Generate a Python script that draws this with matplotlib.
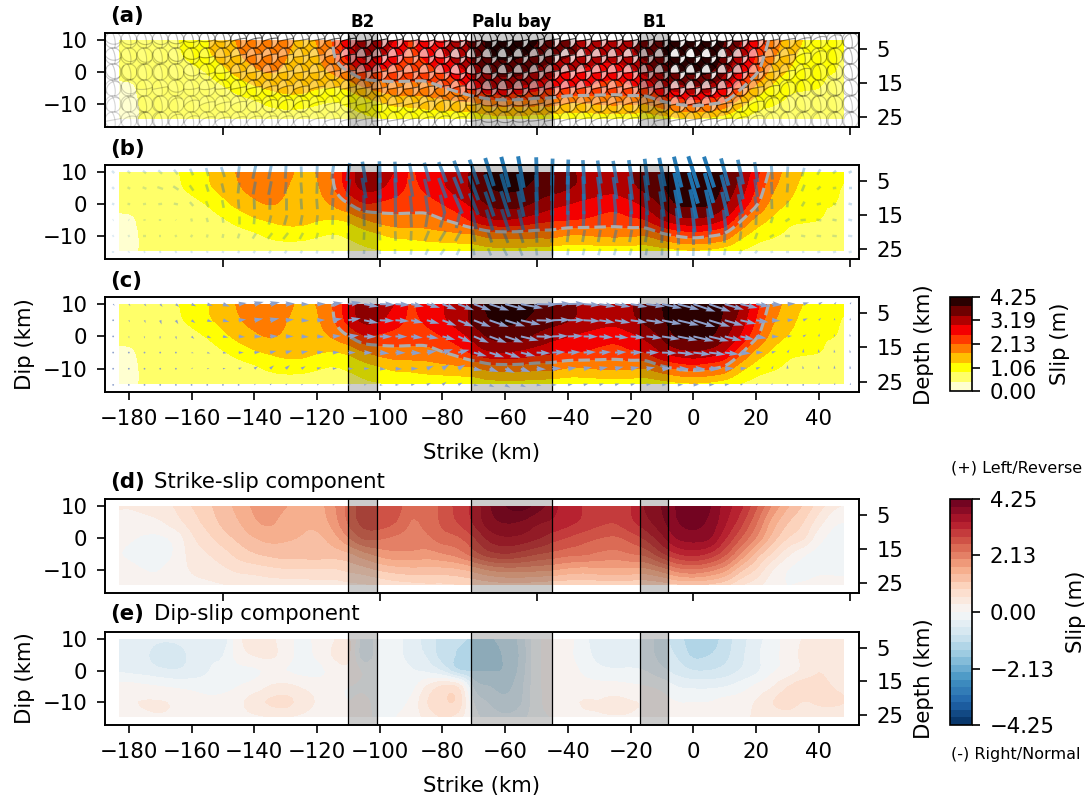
import numpy as np
import matplotlib
matplotlib.use('Agg')
import matplotlib.pyplot as plt
from matplotlib.collections import LineCollection
from matplotlib.colors import BoundaryNorm, ListedColormap
from matplotlib.patches import Rectangle

# ---------- data ----------
strike_km = [-185,-180,-175,-170,-165,-160,-155,-150,-145,-140,-135,-130,-125,-120,-115,-110,-105,-100,-95,-90,-85,-80,-75,-70,
             -65,-60,-55,-50,-45,-40,-35,-30,-25,-20,-15,-10,-5,0,5,10,15,20,25,30,35,40,45,50]
dip_km = [10, 5, 0, -5, -10, -15]

tot_10 = [.5,.55,.6,.65,.8,1.05,1.25,1.5,1.75,2.0,2.05,1.85,1.6,1.72,2.13,2.8,3.1,3.1,2.95,2.5,2.85,2.95,3.2,3.5,
          3.95,4.15,4.15,3.85,3.65,3.45,3.35,3.2,3.1,3.35,3.6,3.82,4.1,4.2,4.15,3.8,3.4,2.7,2.0,1.55,1.27,1.05,.9,.9]
tot_5 = [.5,.5,.5,.55,.75,.95,1.2,1.4,1.65,1.85,1.95,1.72,1.55,1.65,2.05,2.7,3.05,3.0,2.75,2.45,2.65,2.9,3.15,3.5,
         3.8,3.9,3.85,3.65,3.55,3.42,3.3,3.15,3.1,3.3,3.5,3.75,4.1,4.2,4.1,3.7,3.2,2.5,1.8,1.45,1.15,.95,.88,.8]
tot_0 = [.5,.5,.45,.5,.6,.7,.88,1.15,1.4,1.6,1.72,1.62,1.55,1.55,1.75,2.1,2.5,2.45,2.35,2.3,2.35,2.55,2.8,3.1,
         3.45,3.55,3.5,3.3,3.1,2.98,2.85,2.75,2.7,2.85,3.1,3.45,3.85,3.9,3.85,3.45,2.9,2.2,1.55,1.25,1.05,.88,.85,.75]
tot_m5 = [.35,.38,.48,.48,.5,.52,.62,.8,1.0,1.2,1.32,1.4,1.4,1.3,1.25,1.35,1.65,1.85,1.95,1.95,1.95,2.1,2.3,2.65,
          2.9,2.95,2.85,2.7,2.6,2.55,2.5,2.4,2.35,2.45,2.55,2.95,3.2,3.3,3.2,2.9,2.2,1.55,1.2,.95,.9,.85,.75,.65]
tot_m10 = [.3,.35,.46,.47,.48,.5,.52,.58,.65,.75,.92,1.0,.98,.88,.8,.9,1.05,1.2,1.35,1.38,1.45,1.5,1.55,1.6,
           1.8,1.85,1.85,1.8,1.8,1.65,1.65,1.72,1.75,1.72,1.7,1.95,2.15,2.25,2.15,1.95,1.4,1.05,.9,.75,.6,.6,.6,.55]
tot_m15 = [.3,.35,.46,.47,.47,.47,.48,.48,.48,.5,.5,.52,.52,.52,.55,.65,.75,.8,.85,.88,.9,.92,.95,1.0,
           1.05,1.05,1.05,1.0,.95,.95,.95,.95,.95,.95,.95,1.0,1.1,1.15,1.1,.95,.8,.65,.5,.47,.47,.47,.47,.47]

ss_10 = [.3,.3,.35,.45,.6,.85,1.05,1.3,1.5,1.75,1.85,1.72,1.45,1.55,1.9,2.35,2.7,2.8,2.7,2.35,2.45,2.6,2.95,3.2,
         3.65,3.95,4.1,3.85,3.5,3.25,3.1,3.0,2.9,3.1,3.45,3.7,4.0,4.1,4.0,3.55,3.2,2.6,1.95,1.45,1.1,.7,.35,.2]
ss_5 = [.25,.2,.2,.25,.45,.7,.95,1.2,1.4,1.65,1.75,1.55,1.45,1.5,1.8,2.3,2.65,2.7,2.55,2.25,2.35,2.6,2.85,3.15,
        3.55,3.7,3.65,3.45,3.35,3.2,3.05,2.9,2.85,3.05,3.3,3.6,3.95,4.05,3.9,3.45,2.95,2.3,1.6,1.15,.85,.4,.05,0]
ss_0 = [.1,.05,-.05,-.05,.1,.5,.75,1.0,1.2,1.4,1.5,1.45,1.4,1.35,1.55,1.95,2.3,2.3,2.2,2.15,2.2,2.4,2.5,2.8,
        3.2,3.35,3.3,3.15,2.95,2.8,2.65,2.55,2.5,2.65,2.9,3.3,3.7,3.8,3.7,3.15,2.55,1.95,1.3,.85,.6,.1,-.1,-.1]
ss_m5 = [.05,-.05,-.2,-.15,.05,.4,.55,.72,.95,1.1,1.2,1.25,1.25,1.25,1.25,1.35,1.6,1.8,1.9,1.9,1.85,1.95,2.1,2.4,
         2.7,2.8,2.7,2.55,2.45,2.35,2.3,2.2,2.15,2.25,2.35,2.75,3.1,3.2,3.05,2.6,1.95,1.3,.8,.35,.05,-.1,-.1,-.1]
ss_m10 = [.1,.1,0,0,.15,.3,.4,.5,.62,.68,.75,.8,.8,.82,.8,.9,1.0,1.15,1.25,1.3,1.3,1.3,1.35,1.5,
          1.7,1.8,1.8,1.75,1.7,1.6,1.55,1.6,1.6,1.6,1.6,1.8,2.1,2.2,2.05,1.75,1.2,.8,.3,0,-.1,-.05,-.05,-.05]
ss_m15 = [.15,.15,.05,.05,.15,.2,.2,.25,.3,.3,.35,.35,.35,.4,.4,.45,.5,.55,.65,.7,.75,.75,.8,.85,
          .9,.95,.95,.9,.85,.85,.85,.85,.85,.85,.85,.9,1.0,1.05,1.0,.85,.55,.35,.1,0,.05,.1,.1,.1]

ds_10 = [-.3,-.35,-.4,-.5,-.5,-.4,-.3,-.45,.2,.4,.35,.1,-.05,.05,.25,.35,-.45,-.1,-.15,-.45,-.65,-1.0,-1.1,-1.15,
         -1.15,-1.05,-.75,-.1,.1,.1,-.2,-.45,-.5,-.5,-.45,-.75,-1.0,-1.35,-1.35,-1.0,-.7,-.4,-.15,.1,.3,.4,.4,.4]
ds_5 = [-.25,-.35,-.5,-.75,-.7,-.5,-.3,-.3,.15,.3,.35,.15,-.1,.05,.3,.35,-.5,-.1,-.15,-.45,-.6,-1.0,-1.15,-1.2,
        -1.2,-1.1,-.8,-.1,.1,.05,-.15,-.4,-.45,-.4,-.45,-.7,-.9,-1.2,-1.15,-.95,-.65,-.35,-.1,.1,.35,.45,.45,.45]
ds_0 = [-.3,-.35,-.4,-.5,-.55,-.45,-.3,-.2,-.1,-.05,.05,0,-.1,-.1,.1,.2,-.05,-.05,-.05,-.25,-.35,-.6,-1.1,-1.15,
        -1.15,-1.1,-.75,-.1,.1,.1,-.05,-.2,-.25,-.25,-.3,-.5,-.7,-.85,-.85,-.75,-.55,-.35,-.05,.1,.35,.55,.45,.45]
ds_m5 = [.1,.1,.05,0,-.05,-.1,-.15,-.1,0,.1,.3,.35,.25,.15,.05,0,-.05,-.15,-.05,-.1,.3,.6,.5,-.65,
         -.85,-.95,-.65,-.1,.1,.1,.1,.1,.1,.05,0,-.1,-.3,-.35,-.35,-.3,-.15,.05,.25,.55,.7,.65,.55,.5]
ds_m10 = [.2,.25,.3,.3,.25,.2,.1,.1,.2,.45,.6,.65,.45,.25,.1,0,.05,-.1,-.05,.05,.55,.8,.75,-.3,
          -.6,-.75,-.6,-.1,.1,.2,.3,.3,.35,.3,.25,.1,0,0,0,.1,.15,.3,.55,.7,.55,.6,.6,.55]
ds_m15 = [0,.1,.2,.25,.2,.15,.1,.1,.15,.2,.25,.25,.2,.1,.05,.05,.05,-.05,0,.1,.35,.55,.4,-.15,
          -.4,-.5,-.4,-.1,0,.1,.2,.25,.25,.25,.15,.05,.05,.05,.1,.15,.25,.3,.35,.35,.3,.4,.4,.4]

barrier_spans = [(-110, -101), (-71, -45), (-17, -8)]
barrier_labels = ['B2', 'Palu bay', 'B1']
x_ticks_labelled = [-180, -160, -140, -120, -100, -80, -60, -40, -20, 0, 20, 40]
x_ticks_plain = [-150, -100, -50, 0, 50]
dip_ticks = [10, 0, -10]
depth_ticks = [5, 15, 25]
slip_ticks = [0.00, 1.06, 2.13, 3.19, 4.25]
comp_ticks = [-4.25, -2.13, 0.00, 2.13, 4.25]

# ---------- fields ----------
xs = np.array(strike_km, float)
ys = np.array(dip_km, float)
X, Y = np.meshgrid(xs, ys)
TOT = np.array([tot_10, tot_5, tot_0, tot_m5, tot_m10, tot_m15], float)
SS = np.array([ss_10, ss_5, ss_0, ss_m5, ss_m10, ss_m15], float)
DS = np.array([ds_10, ds_5, ds_0, ds_m5, ds_m10, ds_m15], float)

def smooth_axis(a, k, axis):
    # Catmull-Rom resampling, used only to round the contour outlines
    a = np.moveaxis(a, axis, 0)
    n = a.shape[0]
    t = np.linspace(0, n - 1, (n - 1) * k + 1)
    i = np.minimum(t.astype(int), n - 2)
    u = (t - i)[:, None]
    p0, p1 = a[np.maximum(i - 1, 0)], a[i]
    p2, p3 = a[i + 1], a[np.minimum(i + 2, n - 1)]
    out = 0.5 * (2 * p1 + (p2 - p0) * u + (2 * p0 - 5 * p1 + 4 * p2 - p3) * u**2 + (3 * p1 - p0 - 3 * p2 + p3) * u**3)
    return np.moveaxis(out, 0, axis)

def fine(a, k=4):
    return smooth_axis(smooth_axis(a, k, 0), k, 1)

FX, FY = fine(X), fine(Y)
FTOT = np.clip(fine(TOT), 0.001, 4.249)
FSS = np.clip(fine(SS), -4.249, 4.249)
FDS = np.clip(fine(DS), -4.249, 4.249)

W, H = 1087, 800
DPI = 150
plt.rcParams.update({'font.size': 10.2, 'axes.linewidth': 0.8, 'font.family': 'DejaVu Sans',
                     'xtick.major.size': 4, 'ytick.major.size': 4,
                     'xtick.major.pad': 4, 'ytick.major.pad': 4.5})
fig = plt.figure(figsize=(W / DPI, H / DPI), dpi=DPI)

def axpx(l, t, r, b):
    return fig.add_axes([l / W, 1 - b / H, (r - l) / W, (b - t) / H])

XLIM = (-187.6, 52.8)
YLIM = (-17.2, 12.2)
DATA_BOX = (-183, -14.7, 231, 24.7)
lev_total = np.linspace(0, 4.25, 11)
lev_comp = np.linspace(-4.25, 4.25, 31)

def clipped(ax, cs):
    cs.set_clip_path(Rectangle(DATA_BOX[:2], DATA_BOX[2], DATA_BOX[3], transform=ax.transData))

def base(ax, labelled, depth_label=False):
    ax.set_xlim(*XLIM)
    ax.set_ylim(*YLIM)
    ax.set_yticks(dip_ticks)
    if labelled:
        ax.set_xticks(x_ticks_labelled)
        ax.set_xlabel('Strike (km)', labelpad=7)
        ax.set_ylabel('Dip (km)', labelpad=3.5)
    else:
        ax.set_xticks(x_ticks_plain)
        ax.set_xticklabels([])
    tw = ax.twinx()
    tw.set_ylim(28.0, 0.3)
    tw.set_yticks(depth_ticks)
    if depth_label:
        tw.set_ylabel('Depth (km)', labelpad=5)
    for a, b in barrier_spans:
        ax.axvspan(a, b, color='k', alpha=0.2, lw=0, zorder=6)
        for v in (a, b):
            ax.axvline(v, color='k', lw=0.6, zorder=7)

def total_panel(ax):
    cf = ax.contourf(FX, FY, FTOT, levels=lev_total, cmap='hot_r', zorder=1)
    clipped(ax, cf)
    c2 = ax.contour(FX, FY, FTOT, levels=[2.125], colors='0.68', linewidths=1.5, linestyles='--', zorder=5)
    clipped(ax, c2)
    return cf

# ---------- (a) beach balls ----------
def mech_vectors(strike, dip, rake):
    s, d, r = np.radians([strike, dip, rake])
    n = np.array([np.sin(d) * np.cos(s), -np.sin(d) * np.sin(s), -np.cos(d)])
    sl = np.array([np.cos(r) * np.sin(s) - np.cos(d) * np.sin(r) * np.cos(s),
                   np.cos(r) * np.cos(s) + np.cos(d) * np.sin(r) * np.sin(s),
                   -np.sin(d) * np.sin(r)])
    return n, sl

def lower_arc(v, rad, x0, y0, npts=30):
    h = np.array([-v[1], v[0], 0.0])
    h = h / max(np.linalg.norm(h), 1e-9)
    u = np.cross(v, h)
    if u[2] < 0:
        u = -u
    t = np.linspace(0, np.pi, npts)
    p = np.outer(np.cos(t), h) + np.outer(np.sin(t), u)
    k = np.sqrt(np.clip(1 - p[:, 2], 0, None)) / np.maximum(np.hypot(p[:, 0], p[:, 1]), 1e-6)
    return np.column_stack([x0 + rad * p[:, 0] * k, y0 + rad * p[:, 1] * k])

RAD = 2.55
gx = np.linspace(-1, 1, 33)
GX, GY = np.meshgrid(gx, gx)
RHO2 = GX**2 + GY**2
fac = np.sqrt(np.clip(2 - RHO2, 0, None))
RVEC = np.stack([GX * fac, GY * fac, 1 - RHO2], axis=-1)

ax_a = axpx(105, 33, 859, 127)
total_panel(ax_a)
segs, cols = [], []
tt = np.linspace(0, 2 * np.pi, 50)
for j in range(Y.shape[0]):
    for i in range(X.shape[1]):
        x0, y0, m = X[j, i], Y[j, i], TOT[j, i]
        rake = np.degrees(np.arctan2(DS[j, i], SS[j, i]))
        n, sl = mech_vectors(-10.0, 72.0, rake)
        pol = (RVEC @ n) * (RVEC @ sl)
        img = np.ones(GX.shape + (4,))
        img[..., 3] = np.where((pol < 0) & (RHO2 <= 1), min(1.0, m / 4.25) * 0.97, 0.0)
        ax_a.imshow(img, extent=[x0 - RAD, x0 + RAD, y0 - RAD, y0 + RAD], origin='lower',
                    aspect='auto', interpolation='bilinear', zorder=3)
        la = float(np.clip(0.08 + 0.25 * m, 0, 0.8))
        for seg in ([lower_arc(n, RAD, x0, y0), lower_arc(sl, RAD, x0, y0),
                     np.column_stack([x0 + RAD * np.cos(tt), y0 + RAD * np.sin(tt)])]):
            segs.append(seg)
            cols.append((0, 0, 0, la))
ax_a.add_collection(LineCollection(segs, colors=cols, linewidths=0.55, zorder=4))
base(ax_a, False)

# ---------- (b) slip-direction bars ----------
ax_b = axpx(105, 165, 859, 259)
total_panel(ax_b)
BLEN = 1.2
idx = [(j, i) for j in range(Y.shape[0]) for i in range(X.shape[1])]
bar_segs = [[(X[j, i] - BLEN * DS[j, i], Y[j, i] - BLEN * SS[j, i]),
             (X[j, i] + BLEN * DS[j, i], Y[j, i] + BLEN * SS[j, i])] for j, i in idx]
bar_rgba = [(0.12, 0.47, 0.71, float(np.clip(0.08 + 0.9 * TOT[j, i] / 4.25, 0, 1))) for j, i in idx]
bar_lw = [1.0 + 0.22 * TOT[j, i] for j, i in idx]
ax_b.add_collection(LineCollection(bar_segs, colors=bar_rgba, linewidths=bar_lw, zorder=4,
                                   clip_on=False, capstyle='butt'))
base(ax_b, False)

# ---------- (c) slip vectors ----------
ax_c = axpx(105, 297, 859, 392)
total_panel(ax_c)
q = ax_c.quiver(X, Y, SS, DS, color='#8DA0CB', angles='xy', scale_units='xy', scale=0.58,
                width=0.0026, pivot='tail', zorder=8)
q.set_clip_on(False)
base(ax_c, True, True)

# ---------- (d), (e) components ----------
ax_d = axpx(105, 499, 859, 593)
cf_ss = ax_d.contourf(FX, FY, FSS, levels=lev_comp, cmap='RdBu_r', zorder=1)
clipped(ax_d, cf_ss)
base(ax_d, False)

ax_e = axpx(105, 632, 859, 725)
cf_ds = ax_e.contourf(FX, FY, FDS, levels=lev_comp, cmap='RdBu_r', zorder=1)
clipped(ax_e, cf_ds)
base(ax_e, True, True)

# ---------- colour bars ----------
cax1 = axpx(950, 297, 972, 391)
mid = (lev_total[:-1] + lev_total[1:]) / 2 / 4.25
cb1 = fig.colorbar(plt.cm.ScalarMappable(norm=BoundaryNorm(lev_total, len(mid)),
                                         cmap=ListedColormap(plt.get_cmap('hot_r')(mid))),
                   cax=cax1, spacing='proportional')
cb1.set_ticks(slip_ticks)
cb1.set_ticklabels(['%.2f' % v for v in slip_ticks])
cb1.set_label('Slip (m)', labelpad=6)
cb1.ax.minorticks_off()

cax2 = axpx(950, 499, 972, 725)
cb2 = fig.colorbar(cf_ss, cax=cax2)
cb2.set_ticks(comp_ticks)
cb2.set_ticklabels(['%.2f' % v if v >= 0 else '\u2212%.2f' % abs(v) for v in comp_ticks])
cb2.set_label('Slip (m)', labelpad=5.5)
cb2.ax.minorticks_off()

# ---------- text ----------
def ftext(px, py, s, **kw):
    fig.text(px / W, 1 - py / H, s, **kw)

for lab, py in zip(['(a)', '(b)', '(c)', '(d)', '(e)'], [16, 149, 281, 482, 614]):
    ftext(110, py, lab, fontweight='bold', va='center', ha='left')
ftext(154, 482, 'Strike-slip component', va='center', ha='left')
ftext(154, 614, 'Dip-slip component', va='center', ha='left')
for (a, b), lab in zip(barrier_spans, barrier_labels):
    ax_a.annotate(lab, xy=((a + b) / 2, 1.0), xycoords=('data', 'axes fraction'), xytext=(0, 1),
                  textcoords='offset points', ha='center', va='bottom', fontsize=8, fontweight='bold')
ftext(951, 468, '(+) Left/Reverse', fontsize=7.7, va='center', ha='left')
ftext(951, 755, '(-) Right/Normal', fontsize=7.7, va='center', ha='left')

fig.savefig('out.png', dpi=DPI)
